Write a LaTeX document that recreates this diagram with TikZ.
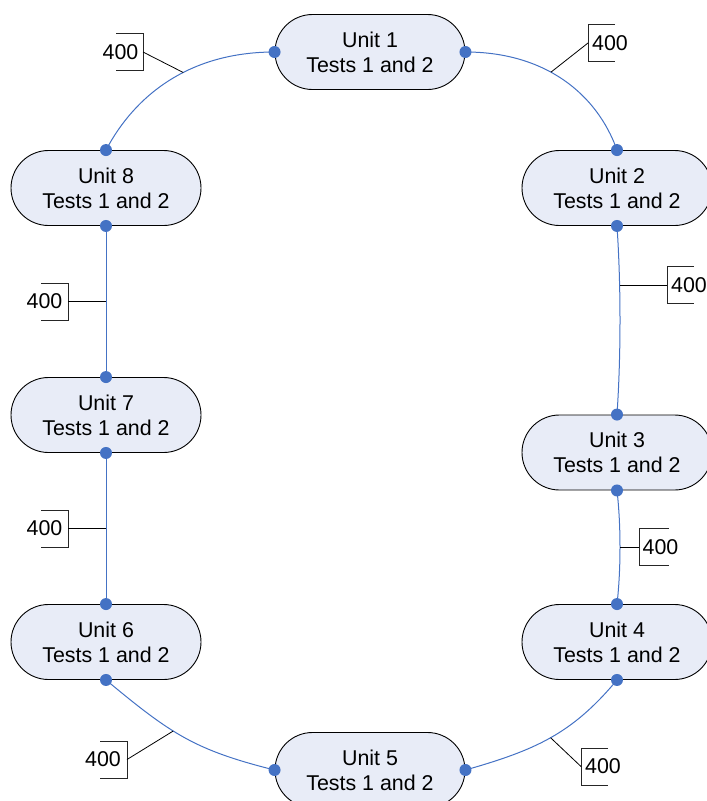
\documentclass[tikz,border=0pt]{standalone}
\usepackage{fontspec}
\setmainfont{Liberation Sans}
\definecolor{unitfill}{HTML}{E8ECF7}
\definecolor{linkblue}{HTML}{4472C4}
\newcommand\brL[1]{\draw[brk] ([shift={(-27,-18.5)}]#1) -- ([shift={(0,-18.5)}]#1) -- ([shift={(0,18.5)}]#1) -- ([shift={(-27,18.5)}]#1);}
\newcommand\brR[1]{\draw[brk] ([shift={(27,-18.5)}]#1) -- ([shift={(0,-18.5)}]#1) -- ([shift={(0,18.5)}]#1) -- ([shift={(27,18.5)}]#1);}
\begin{document}
\begin{tikzpicture}[x=1pt,y=-1pt,
 unit/.style={draw=black, line width=0.9pt, fill=unitfill, rounded corners=37.5pt, minimum width=190pt, minimum height=75pt, inner sep=0pt, align=center, font=\fontsize{21.4}{25}\selectfont},
 link/.style={draw=linkblue, line width=1pt},
 lead/.style={draw=black, line width=0.8pt},
 brk/.style={draw=black!85, line width=0.9pt},
 lbl/.style={inner sep=0pt, font=\fontsize{21.4}{25}\selectfont},
 dot/.style={circle, fill=linkblue, inner sep=0pt, minimum size=12pt}]
\useasboundingbox (0,0) rectangle (707,801);
% units
\node[unit] (U1) at (370,52) {Unit 1\\Tests 1 and 2};
\node[unit] (U2) at (617,188) {Unit 2\\Tests 1 and 2};
\node[unit] (U3) at (617,452.5) {Unit 3\\Tests 1 and 2};
\node[unit] (U4) at (617,642) {Unit 4\\Tests 1 and 2};
\node[unit] (U5) at (370,770) {Unit 5\\Tests 1 and 2};
\node[unit] (U6) at (106,642) {Unit 6\\Tests 1 and 2};
\node[unit] (U7) at (106,415) {Unit 7\\Tests 1 and 2};
\node[unit] (U8) at (106,188) {Unit 8\\Tests 1 and 2};
% connectors
\draw[link] (U1.west) .. controls +(-85,0) and +(29,-55) .. (U8.north) coordinate[pos=0.42] (m18);
\draw[link] (U1.east) .. controls +(80,0) and +(-20,-56) .. (U2.north) coordinate[pos=0.42] (m12);
\draw[link] (U2.south) .. controls +(4,60) and +(4,-60) .. (U3.north) coordinate[pos=0.32] (m23);
\draw[link] (U3.south) .. controls +(4,35) and +(4,-35) .. (U4.north) coordinate[pos=0.5] (m34);
\draw[link] (U4.south) .. controls +(-45,54) and +(70,-20) .. (U5.east) coordinate[pos=0.5] (m45);
\draw[link] (U6.south) .. controls +(65,54) and +(-80,-20) .. (U5.west) coordinate[pos=0.42] (m56);
\draw[link] (U8.south) -- (U7.north) coordinate[pos=0.5] (m78);
\draw[link] (U7.south) -- (U6.north) coordinate[pos=0.5] (m67);
% dots
\foreach \u/\a in {U1/west,U1/east,U2/north,U2/south,U3/north,U3/south,U4/north,U4/south,U5/west,U5/east,U6/north,U6/south,U7/north,U7/south,U8/north,U8/south}
  \node[dot] (d\u\a) at (\u.\a) {};
% labels
\node[lbl] (L18) at (120.5,52) {400}; \coordinate (B18) at (143,52);
\node[lbl] (L12) at (610,43) {400}; \coordinate (B12) at (588,43);
\node[lbl] (L23) at (689,285) {400}; \coordinate (B23) at (667,285);
\node[lbl] (L34) at (660.5,547) {400}; \coordinate (B34) at (639,547);
\node[lbl] (L45) at (603,766.5) {400}; \coordinate (B45) at (581,766.5);
\node[lbl] (L56) at (103,759.5) {400}; \coordinate (B56) at (127,759.5);
\node[lbl] (L67) at (44.5,528.5) {400}; \coordinate (B67) at (68,528.5);
\node[lbl] (L78) at (44.5,301.5) {400}; \coordinate (B78) at (68,301.5);
\brL{B18} \brL{B56} \brL{B67} \brL{B78}
\brR{B12} \brR{B23} \brR{B45}
\draw[brk] ([shift={(30,-18.5)}]B34) -- ([shift={(0,-18.5)}]B34) -- ([shift={(0,18.5)}]B34) -- ([shift={(30,18.5)}]B34);
% leaders
\draw[lead] (B18) -- (m18);
\draw[lead] (B12) -- (m12);
\draw[lead] (B23) -- (B23 -| m23);
\draw[lead] (B34) -- (B34 -| m34);
\draw[lead] (B45) -- (m45);
\draw[lead] (B56) -- (m56);
\draw[lead] (B67) -- (B67 -| m67);
\draw[lead] (B78) -- (B78 -| m78);
\end{tikzpicture}
\end{document}
